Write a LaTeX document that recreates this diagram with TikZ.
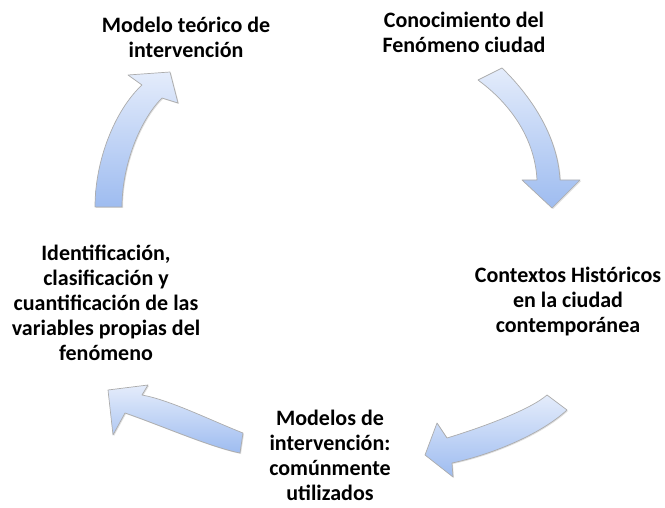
\documentclass[tikz,border=0pt]{standalone}
\usepackage{fontspec}
\setmainfont{Carlito}
\usetikzlibrary{shadows}
\definecolor{arrtop}{RGB}{228,236,251}
\definecolor{arrbot}{RGB}{158,188,240}
\begin{document}
\begin{tikzpicture}[x=1pt, y=-1pt,
  lbl/.style={align=center, inner sep=0pt, font=\fontsize{22}{25}\selectfont\bfseries},
  cyc/.style={top color=arrtop, bottom color=arrbot, draw=gray!65, line width=0.7pt, line join=round,
    drop shadow={opacity=0.25, shadow xshift=1pt, shadow yshift=-1pt}}]
\useasboundingbox (0,0) rectangle (665,508);
\node[lbl] (tid0) at (464,32){Conocimiento del\\Fenómeno ciudad};
\node[lbl] (tid1) at (568,302){Contextos Históricos\\en la ciudad\\contemporánea};
\node[lbl] (tid2) at (330,455){Modelos de\\intervención:\\comúnmente\\utilizados};
\node[lbl] (tid3) at (106,303){Identificación,\\clasificación y\\cuantificación de las\\variables propias del\\fenómeno};
\node[lbl] (tid4) at (186,37){Modelo teórico de\\intervención};
% arrow tid0 -> tid1
\coordinate (a0) at (490,74);
\coordinate (b0) at (552,208);
\shade[cyc] (502,68) .. controls (535,100) and (558,140) .. (560,180) -- (580,180) -- (b0) -- (522,180) -- (537,180)
  .. controls (535,140) and (512,105) .. (478,80) -- cycle;
% arrow tid1 -> tid2
\coordinate (a1) at (557,402);
\coordinate (b1) at (425,455);
\shade[cyc] (547,395) .. controls (530,410) and (480,428) .. (447,438) -- (437,423) -- (b1) -- (453,477) -- (452,463)
  .. controls (490,455) and (540,435) .. (567,410) -- cycle;
% arrow tid2 -> tid3
\coordinate (a2) at (241,443);
\coordinate (b2) at (108,390);
\shade[cyc] (243,433) .. controls (210,420) and (170,400) .. (142,395) -- (148,385) -- (b2) -- (113,435) -- (125,413)
  .. controls (160,425) and (210,447) .. (240,453) -- cycle;
% arrow tid3 -> tid4
\coordinate (a3) at (108,207);
\coordinate (b3) at (170,72);
\shade[cyc] (95,207) .. controls (95,160) and (115,110) .. (142,85) -- (128,75) -- (b3) -- (178,103) -- (162,98)
  .. controls (140,120) and (122,165) .. (122,207) -- cycle;
\end{tikzpicture}
\end{document}
